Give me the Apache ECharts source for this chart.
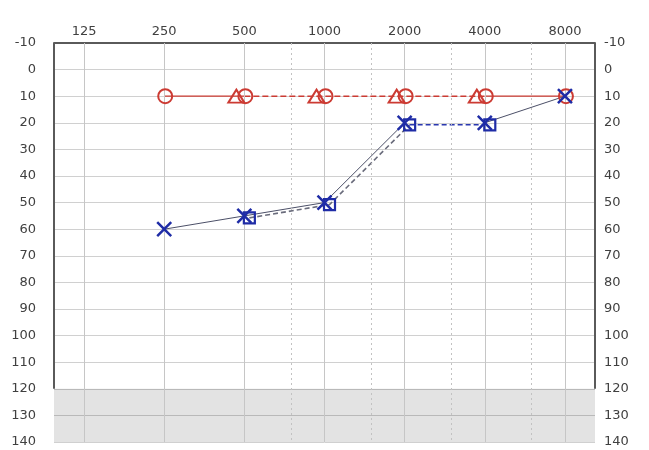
<!DOCTYPE html>
<html><head><meta charset="utf-8">
<script src="https://cdn.jsdelivr.net/npm/echarts@6/dist/echarts.min.js"></script>
<style>html,body{margin:0;padding:0;background:#fff}#c{width:649px;height:450px}</style>
</head><body><div id="c"></div><script>
// Audiogram: hearing level (dB HL) against test frequency (Hz)
const FREQS = [125, 250, 500, 1000, 2000, 4000, 8000];
const MID_FREQS = [750, 1500, 3000, 6000];
const DB_MIN = -10, DB_MAX = 140, DB_STEP = 10, DB_FLOOR = 120;

// Right ear (red)
const rightAC = [null, 10, 10, 10, 10, 10, 10];          // circles
const rightMasked = [null, null, 10, 10, 10, 10, null];  // triangles
// Left ear (blue)
const leftAC = [null, 60, 55, 50, 20, 20, 10];           // crosses
const leftMasked = [null, null, 55, 50, 20, 20, null];   // squares

// connector segments, as index ranges into FREQS
const rightSolidSegs = [[1, 2], [5, 6]];
const rightDashedSegs = [[2, 5]];
const leftSolidSegs = [[1, 4], [5, 6]];
const leftDashedSegs = [[2, 4, '#6a6c7c'], [4, 5, '#2a38b0']];

const oct = f => Math.log2(f / 125);
const X_MIN = -0.375, X_MAX = 6.375;
const RED = '#cc3b33', BLUE = '#1f2ca6';

function pts(values, from, to) {
  const out = [];
  for (let i = from; i <= to; i++) if (values[i] != null) out.push([oct(FREQS[i]), values[i]]);
  return out;
}

const series = [];

// frame: vertical grid lines, gray floor band, side borders
series.push({
  type: 'line', xAxisIndex: 0, yAxisIndex: 0, data: [], silent: true, z: 1,
  markLine: {
    silent: true, symbol: 'none', label: { show: false }, animation: false,
    data: FREQS.map(f => ({ xAxis: oct(f), lineStyle: { color: '#c6c6c6', width: 1, type: 'solid' } }))
      .concat(MID_FREQS.map(f => ({ xAxis: oct(f), lineStyle: { color: '#c2c2c2', width: 1, type: [2, 3] } })))
      .concat([X_MIN, X_MAX].map(x => [
        { coord: [x, DB_MIN], lineStyle: { color: '#5a5a5a', width: 2, type: 'solid' } },
        { coord: [x, DB_FLOOR] }
      ]))
  },
  markArea: {
    silent: true, animation: false,
    itemStyle: { color: 'rgba(0,0,0,0.11)' },
    data: [[{ yAxis: DB_FLOOR }, { yAxis: DB_MAX }]]
  }
});

function lineSeries(data, color, type, width, grid) {
  return {
    type: 'line', xAxisIndex: grid, yAxisIndex: grid === 0 ? 0 : 2, data,
    symbol: 'none', showSymbol: false, silent: true, z: 3, animation: false,
    lineStyle: { color, width, type }
  };
}
rightSolidSegs.forEach(([a, b]) => series.push(lineSeries(pts(rightAC, a, b), RED, 'solid', 1.2, 0)));
rightDashedSegs.forEach(([a, b]) => series.push(lineSeries(pts(rightMasked, a, b), RED, [6, 3], 1.6, 0)));
leftSolidSegs.forEach(([a, b]) => series.push(lineSeries(pts(leftAC, a, b), '#4c5068', 'solid', 1, 0)));
leftDashedSegs.forEach(([a, b, c]) => series.push(lineSeries(pts(leftMasked, a, b), c, [5, 3], 1.6, 1)));

function symbolSeries(data, symbol, size, color, offset, grid, bw) {
  return {
    type: 'line', xAxisIndex: grid, yAxisIndex: grid === 0 ? 0 : 2, data,
    symbol, symbolSize: size, symbolOffset: offset, showSymbol: true, silent: true,
    z: 5, animation: false,
    lineStyle: { width: 0, opacity: 0 },
    itemStyle: { color: 'rgba(255,255,255,0)', borderColor: color, borderWidth: bw }
  };
}
series.push(symbolSeries(pts(rightMasked, 0, 6), 'triangle', [16, 13], RED, [-8, 0], 0, 2));
series.push(symbolSeries(pts(rightAC, 0, 6), 'circle', 14, RED, [1, 0], 0, 2));
series.push(symbolSeries(pts(leftMasked, 0, 6), 'rect', 11, BLUE, [0, 0], 1, 2.2));
series.push(symbolSeries(pts(leftAC, 0, 6), 'path://M0,0L10,10M10,0L0,10', 14, BLUE, [0, 0], 0, 2.5));

const labelStyle = { color: '#404040', fontSize: 13, fontFamily: 'DejaVu Sans, sans-serif' };
const yBase = {
  type: 'value', inverse: true, min: DB_MIN, max: DB_MAX, interval: DB_STEP,
  axisLine: { show: false }, axisTick: { show: false }
};

const chart = echarts.init(document.getElementById('c'), null, { renderer: 'canvas' });
chart.setOption({
  animation: false,
  backgroundColor: '#fff',
  grid: [
    { left: 54, right: 54, top: 43, bottom: 8 },
    { left: 59, right: 49, top: 45, bottom: 6 }
  ],
  xAxis: [
    {
      type: 'value', gridIndex: 0, min: X_MIN, max: X_MAX, position: 'top',
      axisLine: { show: true, onZero: false, lineStyle: { color: '#5a5a5a', width: 2 } },
      axisTick: { show: false }, splitLine: { show: false },
      axisLabel: Object.assign({
        margin: 5, customValues: FREQS.map(oct),
        formatter: v => { const f = FREQS.find(q => Math.abs(oct(q) - v) < 1e-6); return f == null ? '' : String(f); }
      }, labelStyle)
    },
    { type: 'value', gridIndex: 1, min: X_MIN, max: X_MAX, show: false }
  ],
  yAxis: [
    Object.assign({}, yBase, {
      gridIndex: 0, position: 'left',
      splitLine: { show: true, lineStyle: { color: '#d0d0d0', width: 1 } },
      axisLabel: Object.assign({ margin: 18 }, labelStyle)
    }),
    Object.assign({}, yBase, {
      gridIndex: 0, position: 'right', splitLine: { show: false },
      axisLabel: Object.assign({ margin: 9 }, labelStyle)
    }),
    Object.assign({}, yBase, { gridIndex: 1, show: false, splitLine: { show: false } })
  ],
  series
});
</script></body></html>
